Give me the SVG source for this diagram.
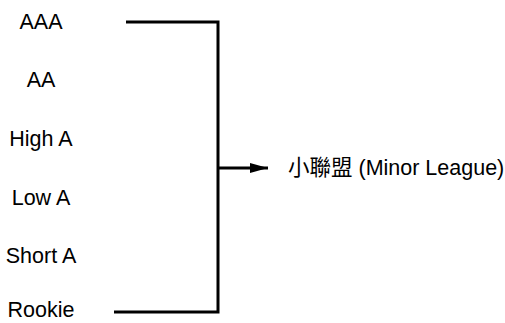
<svg xmlns="http://www.w3.org/2000/svg" width="505" height="323" viewBox="0 0 505 323">
<style>
text{font-family:"Liberation Sans","Noto Sans CJK TC",sans-serif;font-size:21.5px;fill:#000}
.c{stroke:#000;stroke-width:3;fill:none}
</style>
<defs><marker id="ah" markerWidth="18" markerHeight="10" refX="18" refY="5" orient="auto" markerUnits="userSpaceOnUse"><path d="M0,0L18,5L0,10z" fill="#000"/></marker></defs>
<rect width="505" height="323" fill="#fff"/>
<g id="aaa"><text x="41" y="29" text-anchor="middle">AAA</text></g>
<g id="aa"><text x="41" y="87" text-anchor="middle">AA</text></g>
<g id="higha"><text x="41" y="146" text-anchor="middle">High A</text></g>
<g id="lowa"><text x="41" y="205" text-anchor="middle">Low A</text></g>
<g id="shorta"><text x="41" y="263" text-anchor="middle">Short A</text></g>
<g id="rookie"><text x="41" y="317" text-anchor="middle">Rookie</text></g>
<g id="minor"><text x="288" y="175">小聯盟 (Minor League)</text></g>
<g id="connectors">
<path class="c" d="M126,22H218V312H114"/>
<path class="c" d="M218,168H268" marker-end="url(#ah)"/>
</g>
</svg>
